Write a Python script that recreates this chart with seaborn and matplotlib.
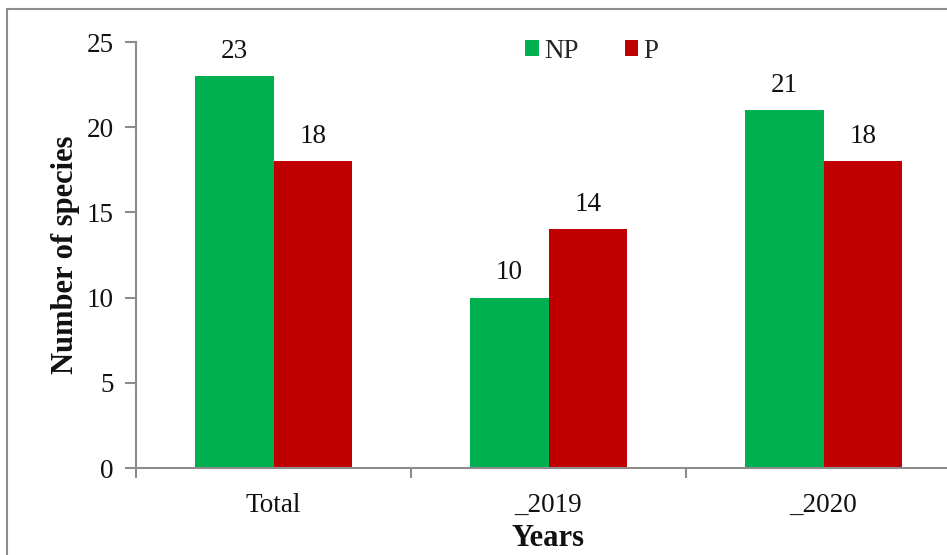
import matplotlib
matplotlib.use("Agg")
import matplotlib.pyplot as plt
from matplotlib.patches import Rectangle, Patch
import seaborn as sns
import pandas as pd

categories = ["Total", "_2019", "_2020"]
np_values = [23, 10, 21]
p_values = [18, 14, 18]
series = ["NP", "P"]
colors = {"NP": "#00B050", "P": "#C00000"}

df = pd.DataFrame({
    "Years": categories * 2,
    "Number of species": np_values + p_values,
    "Group": ["NP"] * len(categories) + ["P"] * len(categories),
})

sns.set_theme(style="white")
plt.rcParams["font.family"] = ["Liberation Serif", "DejaVu Serif"]

fig = plt.figure(figsize=(9.47, 5.55), dpi=100)
ax = fig.add_axes([136 / 947, 1 - 468 / 555, 825 / 947, (468 - 42) / 555])

sns.barplot(data=df, x="Years", y="Number of species", hue="Group",
            hue_order=series, palette=colors, width=0.57, gap=0,
            saturation=1, ax=ax, legend=False, edgecolor="none")

for cont in ax.containers:
    ax.bar_label(cont, fmt="%d", padding=9, fontsize=19.5, color="#111111")

ax.set_ylim(0, 25)
ax.set_xlim(-0.5, 2.5)
ax.set_yticks(range(0, 26, 5))

spine_color = "#8c8c8c"
for side in ["top", "right"]:
    ax.spines[side].set_visible(False)
for side in ["left", "bottom"]:
    ax.spines[side].set_color(spine_color)
    ax.spines[side].set_linewidth(1.5)

ax.tick_params(axis="y", which="major", direction="out", length=8, width=1.5,
               color=spine_color, labelsize=19.5, labelcolor="#111111", left=True, pad=8)
ax.tick_params(axis="x", which="major", length=0, labelsize=19.5,
               labelcolor="#111111", pad=18)
ax.set_xticks([-0.5, 0.5, 1.5, 2.5], minor=True)
ax.tick_params(axis="x", which="minor", direction="out", length=7, width=1.5,
               color=spine_color, bottom=True)

ax.set_xlabel("Years", fontsize=22, fontweight="bold", color="#111111", labelpad=4)
ax.set_ylabel("Number of species", fontsize=22, fontweight="bold", color="#111111", labelpad=5)

handles = [Patch(facecolor=colors[s], edgecolor="none") for s in series]
ax.legend(handles, series, loc="center", bbox_to_anchor=(592 / 947, 1 - 51 / 555),
          bbox_transform=fig.transFigure, ncol=2, frameon=False, fontsize=19.5,
          handlelength=0.5, handleheight=0.5, handletextpad=0.2, columnspacing=1.7,
          borderpad=0.2)

fig.patches.append(Rectangle((7 / 947, -0.1), 1.2, 1 - 9 / 555 + 0.1,
                             transform=fig.transFigure, fill=False,
                             edgecolor="#8c8c8c", linewidth=1.5, zorder=10))

fig.savefig("out.png", dpi=100)
